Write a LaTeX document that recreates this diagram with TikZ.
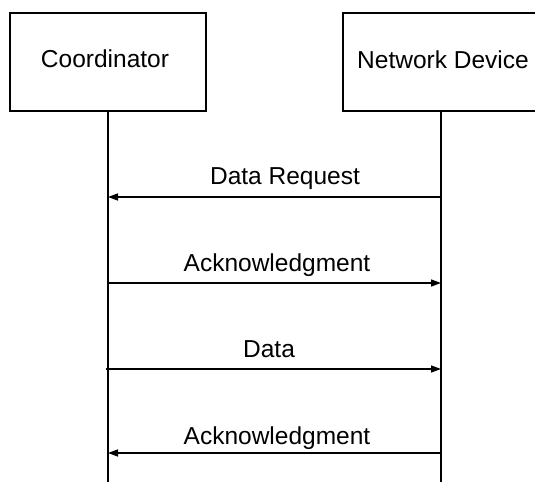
\documentclass[tikz,border=0pt]{standalone}
\usepackage{fontspec}
\setmainfont{Liberation Sans}
\usetikzlibrary{arrows.meta}
\begin{document}
\begin{tikzpicture}[x=1bp,y=-1bp,
  lane/.style={draw=black,line width=1.4bp,minimum width=196bp,minimum height=98bp,
    inner sep=0pt,fill=white},
  life/.style={line width=1.4bp},
  msg/.style={line width=1.4bp,-{Triangle[length=10bp,width=7bp]}},
  lbl/.style={anchor=base,inner sep=0pt,font=\fontsize{24.5bp}{28bp}\selectfont}]
\useasboundingbox (0,0) rectangle (535,482);
\clip (0,0) rectangle (535,482);
% participants
\node[lane] (coord) at (108,62) {};
\node[lane] (dev) at (441,62) {};
\node[lbl] (coordtxt) at (105,68) {Coordinator};
\node[lbl] (devtxt) at (443,69) {Network Device};
% lifelines
\coordinate (cend) at (108,482);
\coordinate (dend) at (441,482);
\draw[life] (coord.south) -- (cend);
\draw[life] (dev.south) -- (dend);
% message anchors on the lifelines
\coordinate (c1) at (108,197); \coordinate (d1) at (441,197);
\coordinate (c2) at (108,283); \coordinate (d2) at (441,283);
\coordinate (c3) at (106,369); \coordinate (d3) at (441,369);
\coordinate (c4) at (108,453); \coordinate (d4) at (441,453);
% messages
\draw[msg] (d1) -- (c1);
\draw[msg] (c2) -- (d2);
\draw[msg] (c3) -- (d3);
\draw[msg] (d4) -- (c4);
\node[lbl] (m1) at (285,185) {Data Request};
\node[lbl] (m2) at (277,271) {Acknowledgment};
\node[lbl] (m3) at (269,357) {Data};
\node[lbl] (m4) at (277,444) {Acknowledgment};
\end{tikzpicture}
\end{document}
